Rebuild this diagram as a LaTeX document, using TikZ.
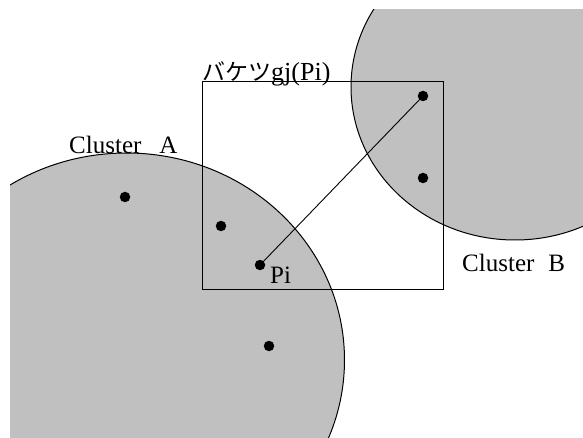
\documentclass[tikz,border=0pt]{standalone}
\usepackage{fontspec}
\setmainfont{Liberation Serif}
\newfontfamily\jpfont{Noto Sans CJK JP}
\definecolor{clgray}{HTML}{C0C0C0}
\begin{document}
\begin{tikzpicture}[x=1pt,y=-1pt,
  dot/.style={circle,fill=black,inner sep=0pt,minimum size=10.5pt},
  lbl/.style={anchor=base west,inner sep=0pt,font=\fontsize{25}{29}\selectfont},
  cluster/.style={fill=clgray,draw=black,line width=1pt},
  thin line/.style={draw=black,line width=0.9pt}]
\useasboundingbox (0,0) rectangle (583,438);
\begin{scope}
  \clip (10,10) rectangle (583,438);
  \draw[cluster] (126.5,360) ellipse [x radius=218, y radius=207];
  \draw[cluster] (515,87) ellipse [x radius=164, y radius=153];
\end{scope}
\node[thin line,minimum width=241pt,minimum height=207.5pt,inner sep=0pt] (box) at (322.5,185.25) {};
\node[dot] (a1) at (125,197) {};
\node[dot] (a2) at (221,226) {};
\node[dot] (pi) at (260,265) {};
\node[dot] (a3) at (269,346) {};
\node[dot] (b1) at (423,96) {};
\node[dot] (b2) at (423,178) {};
\draw[thin line] (pi) -- (b1);
\node[lbl] (la) at (69,154) {Cluster\hspace{18pt}A};
\node[lbl] (lb) at (462,271) {Cluster\hspace{14pt}B};
\node[lbl] (lpi) at (270,283) {Pi};
\node[lbl,font=\fontsize{26}{30}\selectfont] (lbucket) at (202,81) {{\jpfont\fontsize{23}{27}\selectfont バケツ}gj(Pi)};
\end{tikzpicture}
\end{document}
